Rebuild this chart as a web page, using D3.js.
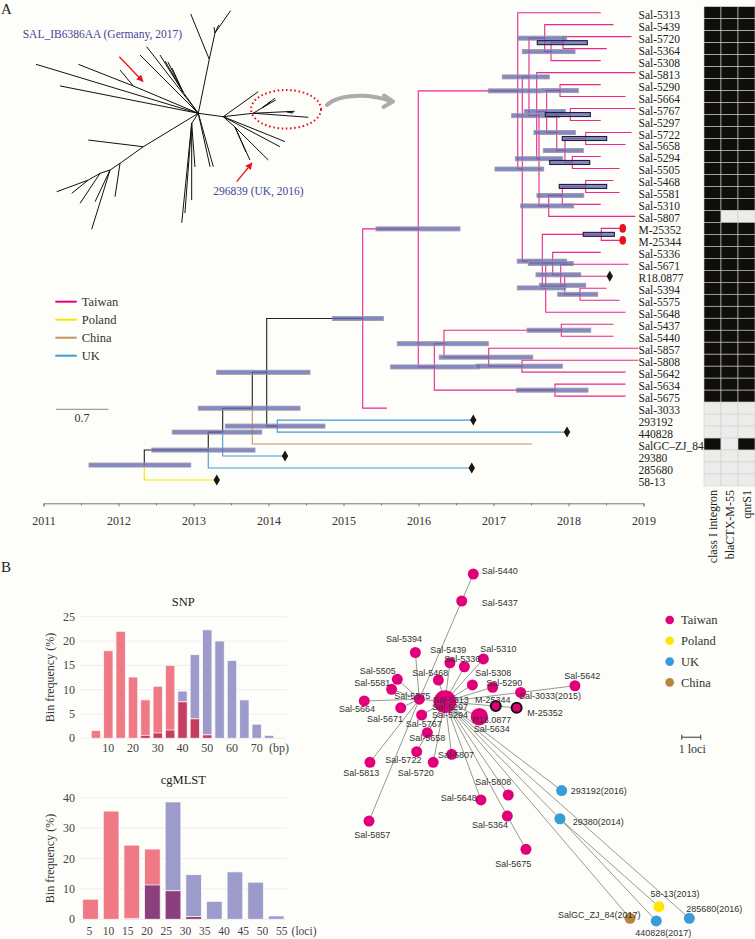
<!DOCTYPE html>
<html><head><meta charset="utf-8">
<script src="https://cdn.jsdelivr.net/npm/d3@7"></script>
<style>body{margin:0;background:#fdfdf9}svg{display:block}</style>
</head><body><svg id="c" width="755" height="939"></svg>
<script>
// ---------------- DATA ----------------
const years = [2011,2012,2013,2014,2015,2016,2017,2018,2019];
const tipNames = ["Sal-5313","Sal-5439","Sal-5720","Sal-5364","Sal-5308","Sal-5813","Sal-5290","Sal-5664","Sal-5767","Sal-5297","Sal-5722","Sal-5658","Sal-5294","Sal-5505","Sal-5468","Sal-5581","Sal-5310","Sal-5807","M-25352","M-25344","Sal-5336","Sal-5671","R18.0877","Sal-5394","Sal-5575","Sal-5648","Sal-5437","Sal-5440","Sal-5857","Sal-5808","Sal-5642","Sal-5634","Sal-5675","Sal-3033","293192","440828","SalGC\u2013ZJ_84","29380","285680","58-13"];
const tipCountry = ["Taiwan","Taiwan","Taiwan","Taiwan","Taiwan","Taiwan","Taiwan","Taiwan","Taiwan","Taiwan","Taiwan","Taiwan","Taiwan","Taiwan","Taiwan","Taiwan","Taiwan","Taiwan","Taiwan","Taiwan","Taiwan","Taiwan","Taiwan","Taiwan","Taiwan","Taiwan","Taiwan","Taiwan","Taiwan","Taiwan","Taiwan","Taiwan","Taiwan","Taiwan","UK","UK","China","UK","UK","Poland"];
const tipDate = [2018.43,2018.60,2018.84,2018.51,2018.43,2018.89,2018.43,2018.76,2018.89,2018.43,2018.84,2018.76,2018.43,2018.68,2018.60,2018.68,2018.43,2018.89,2018.71,2018.71,2018.43,2018.80,2018.55,2018.51,2018.68,2018.76,2018.60,2018.60,2018.93,2018.93,2018.76,2018.76,2018.76,2015.58,2016.73,2017.98,2017.51,2014.22,2016.71,2013.31];
const tipParent = ["n8","n11","n13","n13","n12","n14","n17","n17","n19","n19","n21","n21","n22","n22","n25","n25","n24","n23","n27","n27","n29","n30","n31","n32","n32","n28","n35","n35","n36","n37","n37","n38","n38","n6","n5","n5","n3","n2","n1","n0"];
const tipMarker = ["","","","","","","","","","","","","","","","","","","dot","dot","","","diamond","","","","","","","","","","","","diamond","diamond","","diamond","diamond","diamond"];

const nodeNames = ["n0","n1","n2","n3","n4","n5","n6","n7","n8","n9","n10","n11","n12","n13","n14","n15","n16","n17","n18","n19","n20","n21","n22","n23","n24","n25","n26","n27","n28","n29","n30","n31","n32","n33","n34","n35","n36","n37","n38"];
const nodeParent = ["","n0","n1","n2","n3","n4","n4","n6","n7","n8","n9","n10","n11","n12","n10","n14","n15","n16","n16","n18","n18","n20","n20","n15","n23","n24","n9","n26","n26","n28","n29","n30","n31","n7","n33","n34","n34","n36","n33"];
const nodeDate = [2012.344,2013.197,2013.389,2013.784,2013.976,2014.117,2015.256,2015.997,2017.323,2017.384,2017.473,2017.683,2017.767,2017.927,2017.576,2017.607,2017.709,2017.887,2017.843,2018.024,2017.953,2018.229,2018.051,2017.736,2017.917,2018.229,2017.651,2018.437,2017.696,2017.789,2017.896,2017.949,2018.153,2016.211,2016.340,2017.904,2016.936,2017.380,2017.820];
const nodeHpdLow = [2011.607,2012.443,2012.717,2013.064,2013.309,2013.424,2014.851,2015.433,2016.931,2017.020,2017.117,2017.323,2017.384,2017.584,2017.243,2017.291,2017.411,2017.643,2017.540,2017.691,2017.664,2017.917,2017.749,2017.363,2017.580,2017.877,2017.317,2018.197,2017.317,2017.464,2017.567,2017.611,2017.856,2015.629,2015.717,2017.447,2016.277,2016.767,2017.304];
const nodeHpdHigh = [2012.963,2013.820,2013.909,2014.420,2014.553,2014.753,2015.531,2016.553,2017.643,2017.669,2017.744,2017.976,2018.087,2018.251,2017.877,2017.923,2017.957,2018.131,2018.091,2018.291,2018.197,2018.509,2018.283,2018.069,2018.203,2018.509,2017.976,2018.611,2017.963,2018.064,2018.163,2018.229,2018.389,2016.811,2016.931,2018.296,2017.523,2017.917,2018.260];
const nodeState = ["","","","","","","","Taiwan","Taiwan","Taiwan","Taiwan","Taiwan","Taiwan","Taiwan","Taiwan","Taiwan","Taiwan","Taiwan","Taiwan","Taiwan","Taiwan","Taiwan","Taiwan","Taiwan","Taiwan","Taiwan","Taiwan","Taiwan","Taiwan","Taiwan","Taiwan","Taiwan","Taiwan","Taiwan","Taiwan","Taiwan","Taiwan","Taiwan","Taiwan"];
const nodeHighSupport = [0,0,0,0,0,0,0,0,0,0,0,0,0,1,0,0,0,0,0,1,0,1,1,0,0,1,0,1,0,0,0,0,0,0,0,0,0,0,0];

const genes = ["class I integron","blaCTX-M-55","qnrS1"];
const geneIntegron = [1,1,1,1,1,1,1,1,1,1,1,1,1,1,1,1,1,1,1,1,1,1,1,1,1,1,1,1,1,1,1,1,1,0,0,0,1,0,0,0];
const geneCTX      = [1,1,1,1,1,1,1,1,1,1,1,1,1,1,1,1,1,0,1,1,1,1,1,1,1,1,1,1,1,1,1,1,1,0,0,0,0,0,0,0];
const geneQnr      = [1,1,1,1,1,1,1,1,1,1,1,1,1,1,1,1,1,0,1,1,1,1,1,1,1,1,1,1,1,1,1,1,1,0,0,0,1,0,0,0];

const legendCountries = ["Taiwan","Poland","China","UK"];
const scaleBarLength = 0.7;

// unrooted overview tree: [node, parent, angle (deg), branch length]
const uBranches = [
 ["A1","C",-78.5,0.738],["a1","A1",-112.3,0.656],["A2","A1",-77.8,0.36],["a2","A2",-54.9,0.365],["a3","A2",-100,0.08],["a4","A2",-65,0.12],
 ["b1","C",-163.2,2.269],["b2","C",-168.8,1.888],["B1","C",-157.2,0.944],["b3","B1",-158.5,0.79],["b4","B1",-129.7,0.278],
 ["b5","C",-127.8,1.128],["b6","C",-135,1.104],["D","C",-125.7,0.351],["d1","D",-120.1,0.479],["d2","D",-116.6,0.448],["d3","D",-114.6,0.353],["d4","D",-121.9,0.584],
 ["E1","C",7.7,0.337],["E2","E1",-6.5,0.404],["e1","E2",4.2,0.738],["E3","E2",-2.7,0.447],["e2","E3",5,0.094],["e3","E3",-3,0.107],["e4","E3",15,0.08],
 ["e5","E1",-35.5,0.576],["E4","E2",-31.3,0.137],["e6","E4",-36.7,0.217],["e7","E4",-30,0.214],["e8","E4",-37,0.134],
 ["e9","E1",22,0.892],["e10","E1",27.9,0.858],["F","E1",41.4,0.209],["f1","F",44.7,0.628],["f2","F",65.6,0.485],["f3","F",66.3,0.366],
 ["G","C",123.4,0.161],["g1","G",95.7,1.337],["g2","G",94.3,1.205],["g3","G",85.7,0.586],["g4","G",90,1.027],
 ["h1","C",74.3,0.743],["h2","C",77.6,0.732],
 ["T1","C",148.7,0.861],["t1","T1",-173.1,0.742],["K1","T1",144.5,0.383],["k1","K1",98.5,0.452],["K2","K1",146.2,0.161],["k2","K2",107.2,0.831],["k3","K2",115.3,0.469],
 ["K3","K2",161.7,0.141],["k4","K3",123.7,0.482],["K4","K3",150.2,0.181],["k5","K4",141.3,0.285],["k6","K4",159.7,0.451]
];

// histograms
const snpBins = [5,10,15,20,25,30,35,40,45,50,55,60,65,70,75];
const snpWithin = [1.6,18,22,12.6,7.9,10.7,15,7.5,4,0.7,0,0,0,0,0];
const snpBetween = [0,0,0,0,0.6,1.1,1.7,9.7,17.2,22.3,20,16,7.9,2.9,0.6];
const snpTicks = [10,20,30,40,50,60,70];
const snpYTicks = [0,5,10,15,20,25];
const cgBins = [5,10,15,20,25,30,35,40,45,50];
const cgWithin = [6.6,35.6,24.4,23.1,9.4,0.9,0,0,0,0];
const cgBetween = [0,0,0.3,11.3,38.6,14.7,5.9,15.6,12.2,1.1];
const cgTicks = [5,10,15,20,25,30,35,40,45,50,55];
const cgYTicks = [0,10,20,30,40];

// minimum spanning network (layout coordinates in loci)
const netIds = ["C","Sal-5440","Sal-5437","Sal-5394","Sal-5439","Sal-5336","Sal-5310","Sal-5468","Sal-5308","Sal-5290","Sal-5505","Sal-5581","Sal-5664","Sal-5575","Sal-5671","Sal-5767","Sal-5658","Sal-5722","Sal-5720","Sal-5807","Sal-5813","Sal-5857","M-25344","M-25352","R","Sal-3033","Sal-5642","293192","29380","Sal-5808","Sal-5648","Sal-5364","Sal-5675","58-13","285680","440828","SalGC_ZJ_84"];
const netCountry = ["Taiwan","Taiwan","Taiwan","Taiwan","Taiwan","Taiwan","Taiwan","Taiwan","Taiwan","Taiwan","Taiwan","Taiwan","Taiwan","Taiwan","Taiwan","Taiwan","Taiwan","Taiwan","Taiwan","Taiwan","Taiwan","Taiwan","Taiwan","Taiwan","Taiwan","Taiwan","Taiwan","UK","UK","Taiwan","Taiwan","Taiwan","Taiwan","Poland","UK","UK","China"];
const netCount = [3,1,1,1,1,1,1,1,1,1,1,1,1,1,1,1,1,1,1,1,1,1,1,1,2,1,1,1,1,1,1,1,1,1,1,1,1];
const netOutlined = ["M-25344","M-25352"];
const netX = [0,1.49,0.88,-1.56,0.26,1.02,2.02,-0.35,1.44,2.51,-2.51,-2.81,-4.25,-1.35,-2.33,-1.23,-0.93,-1.49,-0.62,0.35,-3.95,-4.0,2.67,3.77,1.81,3.98,6.84,6.14,6.05,3.33,1.89,3.28,4.26,11.26,12.86,11.12,9.74];
const netY = [0,-6.72,-5.30,-2.59,-2.05,-1.84,-2.25,-1.14,-0.88,-0.76,-1.18,-0.65,-0.04,-0.13,0.32,0.70,1.63,2.63,3.19,2.77,3.19,6.28,0.23,0.32,0.79,-0.49,-0.84,4.68,6.16,4.91,5.17,6.02,7.77,10.79,11.40,11.54,11.40];
const netEdges = [["C","Sal-5575"],["Sal-5575","Sal-5437"],["Sal-5437","Sal-5440"],["Sal-5575","Sal-5857"],["Sal-5575","Sal-5394"],["Sal-5575","Sal-5505"],["Sal-5575","Sal-5581"],["Sal-5575","Sal-5664"],["Sal-5575","Sal-5671"],["Sal-5575","Sal-5813"],
 ["C","Sal-5439"],["C","Sal-5336"],["C","Sal-5310"],["C","Sal-5308"],["C","Sal-5290"],["C","Sal-5468"],["C","Sal-5767"],["C","Sal-5658"],["C","Sal-5722"],["C","Sal-5720"],["C","Sal-5807"],
 ["C","M-25344"],["M-25344","M-25352"],["C","R"],["C","Sal-3033"],["Sal-3033","Sal-5642"],["C","Sal-5648"],["C","Sal-5808"],["C","Sal-5364"],["Sal-5364","Sal-5675"],
 ["C","293192"],["C","29380"],["29380","440828"],["29380","58-13"],["C","285680"],["C","SalGC_ZJ_84"]];
const netLabelText = ["Sal-5440","Sal-5437","Sal-5394","Sal-5439","Sal-5336","Sal-5310","Sal-5468","Sal-5308","Sal-5290","Sal-5505","Sal-5581","Sal-5664","Sal-5575","Sal-5313","Sal-5297","Sal-5294","Sal-5671","Sal-5767","Sal-5658","Sal-5722","Sal-5720","Sal-5807","Sal-5813","Sal-5857","M-25344","M-25352","R18.0877","Sal-5634","Sal-3033(2015)","Sal-5642","293192(2016)","29380(2014)","Sal-5808","Sal-5648","Sal-5364","Sal-5675","58-13(2013)","285680(2016)","440828(2017)","SalGC_ZJ_84(2017)"];
const netLabelAnchor = ["start","start","middle","middle","middle","middle","middle","middle","middle","middle","middle","middle","middle","middle","middle","middle","middle","middle","middle","middle","middle","middle","middle","middle","middle","start","middle","middle","middle","middle","start","start","middle","end","middle","middle","middle","middle","middle","middle"];
const netLabelX = [1.93,1.93,-2.16,0.17,0.91,2.81,-0.77,2.54,3.12,-3.54,-3.83,-4.63,-1.72,0.30,0.26,0.26,-3.16,-1.12,-0.93,-2.19,-1.54,0.58,-4.41,-3.83,2.51,4.33,2.46,2.46,5.53,7.23,6.62,6.72,2.54,1.67,2.37,3.59,12.11,14.17,11.49,8.12];
const netLabelY = [-6.89,-5.23,-3.30,-2.76,-2.28,-2.81,-1.55,-1.55,-1.0,-1.62,-0.98,0.38,-0.30,-0.13,0.26,0.70,0.91,1.14,1.89,3.07,3.74,2.77,3.72,7.02,-0.09,0.58,0.93,1.40,-0.30,-1.37,4.68,6.32,4.21,5.03,6.49,8.51,10.08,10.87,12.14,11.19];
const netLegend = ["Taiwan","Poland","UK","China"];
const netScaleBar = {x:12.46, y:1.87, len:1, label:"1 loci"};

// ---------------- STYLE ----------------
const SERIF = "'Liberation Serif','Times New Roman',serif";
const SANS = "'Liberation Sans',Arial,sans-serif";
const lineColor = {Taiwan:"#e6007e", Poland:"#f7e400", China:"#c4925a", UK:"#3d9bd6"};
const dotColor = {Taiwan:"#e2007a", Poland:"#ffe600", China:"#b8853f", UK:"#3a9bd9"};
const BG = "#fdfdf9";

const svg = d3.select("#c");
svg.append("rect").attr("width",755).attr("height",939).attr("fill",BG);

svg.append("text").attr("x",1).attr("y",14).attr("font-family",SERIF).attr("font-size",15).attr("fill","#222").text("A");
svg.append("text").attr("x",1).attr("y",572).attr("font-family",SERIF).attr("font-size",15).attr("fill","#222").text("B");

// ---------------- PANEL A: time tree ----------------
const tx = d3.scaleLinear().domain([2011,2019]).range([43.5,643.5]);
const ty = d3.scaleBand().domain(tipNames).range([6.7,486]);
const rowY = n => ty(n) + ty.bandwidth()/2;

const table = [];
nodeNames.forEach((id,i)=>table.push({id, parentId: nodeParent[i]||null, date:nodeDate[i], lo:nodeHpdLow[i], hi:nodeHpdHigh[i], state:nodeState[i], strong:nodeHighSupport[i], tip:false}));
tipNames.forEach((id,i)=>table.push({id, parentId: tipParent[i], date:tipDate[i], state:tipCountry[i], marker:tipMarker[i], tip:true}));
const root = d3.stratify().id(d=>d.id).parentId(d=>d.parentId)(table);
root.eachAfter(n=>{
  if(!n.children) n.py = rowY(n.id);
  else { const ys = n.children.map(c=>c.py); n.py = (d3.min(ys)+d3.max(ys))/2; }
});

const gTree = svg.append("g");
gTree.selectAll("path.edge").data(root.descendants().filter(d=>d.parent)).join("path")
  .attr("class","edge")
  .attr("d", d=>`M${tx(d.parent.data.date)},${d.parent.py}V${d.py}H${tx(d.data.date)}`)
  .attr("fill","none")
  .attr("stroke", d=> d.data.state ? lineColor[d.data.state] : "#222")
  .attr("stroke-opacity", d=> d.data.state==="Taiwan" ? 0.85 : 1)
  .attr("stroke-width",1.1);

gTree.selectAll("rect.hpd").data(root.descendants().filter(d=>!d.data.tip)).join("rect")
  .attr("class","hpd")
  .attr("x", d=>tx(d.data.lo)).attr("width", d=>tx(d.data.hi)-tx(d.data.lo))
  .attr("y", d=>d.py-2).attr("height",4)
  .attr("fill","#6467b4").attr("fill-opacity",0.78)
  .attr("stroke", d=>d.data.strong ? "#1d1d33" : "#9a9aa8")
  .attr("stroke-width", d=>d.data.strong ? 1.1 : 0.9);

const tipsH = root.leaves();
gTree.selectAll("path.dia").data(tipsH.filter(d=>d.data.marker==="diamond")).join("path")
  .attr("class","dia")
  .attr("d", d=>{const x=tx(d.data.date), y=d.py; return `M${x},${y-5.5}L${x+3.2},${y}L${x},${y+5.5}L${x-3.2},${y}Z`;})
  .attr("fill","#1a1512");
gTree.selectAll("ellipse.dot").data(tipsH.filter(d=>d.data.marker==="dot")).join("ellipse")
  .attr("cx", d=>tx(d.data.date)+1).attr("cy", d=>d.py).attr("rx",3.3).attr("ry",4.3).attr("fill","#e8101c");

gTree.selectAll("text.tl").data(tipNames).join("text")
  .attr("x",638.5).attr("y", d=>rowY(d)+6)
  .attr("font-family",SERIF).attr("font-size",11.5).attr("fill","#222").text(d=>d);

const axisG = svg.append("g").attr("transform","translate(0,503.3)");
axisG.call(d3.axisBottom(tx).tickValues(years).tickFormat(d3.format("d")).tickSize(3).tickPadding(10.5));
axisG.selectAll("path,line").attr("stroke","#777");
axisG.selectAll("text").attr("font-family",SERIF).attr("font-size",12).attr("fill","#333");
const minor = svg.append("g").attr("transform","translate(0,503.3)");
minor.call(d3.axisBottom(tx).tickValues(years.slice(0,-1).map(y=>y+0.5)).tickFormat("").tickSize(2));
minor.select(".domain").remove();
minor.selectAll("line").attr("stroke","#777");

// heatmap
const hx = d3.scaleBand().domain(genes).range([704,755]);
const geneData = [geneIntegron, geneCTX, geneQnr];
const cells = [];
tipNames.forEach((n,i)=>genes.forEach((g,j)=>cells.push({n,g,v:geneData[j][i]})));
svg.append("g").selectAll("rect").data(cells).join("rect")
  .attr("x", d=>hx(d.g)).attr("y", d=>ty(d.n))
  .attr("width", hx.bandwidth()).attr("height", ty.bandwidth())
  .attr("fill", d=>d.v ? "#100e0b" : "#ececea")
  .attr("stroke","#cfcfcf").attr("stroke-width",0.6);
svg.append("g").selectAll("text").data(genes).join("text")
  .attr("transform", d=>`translate(${hx(d)+hx.bandwidth()/2+4},490) rotate(-90)`)
  .attr("text-anchor","end").attr("font-family",SERIF).attr("font-size",12).attr("fill","#222").text(d=>d);

// legend A
const legA = svg.append("g");
legendCountries.forEach((c,i)=>{
  const y = 301.7 + i*18;
  legA.append("line").attr("x1",55.3).attr("x2",76.7).attr("y1",y).attr("y2",y).attr("stroke",lineColor[c]).attr("stroke-width",2);
  legA.append("text").attr("x",81.7).attr("y",y+4).attr("font-family",SERIF).attr("font-size",12.5).attr("fill","#333").text(c);
});

// unrooted overview tree
const uLen = d3.scaleLinear().domain([0,scaleBarLength]).range([0,52.3]);
const uPos = {C:[198.3,113.3]};
const uSegs = [];
uBranches.forEach(([id,p,a,l])=>{
  const [px,py] = uPos[p];
  const r = a*Math.PI/180, L = uLen(l);
  uPos[id] = [px+L*Math.cos(r), py+L*Math.sin(r)];
  uSegs.push([uPos[p], uPos[id]]);
});
svg.append("g").selectAll("line").data(uSegs).join("line")
  .attr("x1",d=>d[0][0]).attr("y1",d=>d[0][1]).attr("x2",d=>d[1][0]).attr("y2",d=>d[1][1])
  .attr("stroke","#111").attr("stroke-width",1);
svg.append("line").attr("x1",56).attr("x2",56+uLen(scaleBarLength)).attr("y1",409.3).attr("y2",409.3).attr("stroke","#888").attr("stroke-width",1);
svg.append("text").attr("x",82).attr("y",422).attr("text-anchor","middle").attr("font-family",SERIF).attr("font-size",12).attr("fill","#333").text(String(scaleBarLength));

// annotations
const defs = svg.append("defs");
defs.append("marker").attr("id","ar").attr("viewBox","0 0 10 10").attr("refX",9).attr("refY",5)
  .attr("markerWidth",7).attr("markerHeight",7).attr("orient","auto").attr("markerUnits","userSpaceOnUse")
  .append("path").attr("d","M0,0L10,5L0,10Z").attr("fill","#e8141c");
const arrows = [[119.3,56.7,143,81.5],[236.7,181.7,252,163]];
svg.append("g").selectAll("line").data(arrows).join("line")
  .attr("x1",d=>d[0]).attr("y1",d=>d[1]).attr("x2",d=>d[2]).attr("y2",d=>d[3])
  .attr("stroke","#e8141c").attr("stroke-width",1.3).attr("marker-end","url(#ar)");
svg.append("ellipse").attr("cx",286).attr("cy",109.3).attr("rx",35).attr("ry",19.3)
  .attr("fill","none").attr("stroke","#e8141c").attr("stroke-width",2).attr("stroke-dasharray","1.6,2.6");
svg.append("path").attr("d","M327,105C338,94 370,93 391,101.5").attr("fill","none").attr("stroke","#ababab").attr("stroke-width",4).attr("stroke-linecap","round");
svg.append("path").attr("d","M384,95.5L393,101.5L383.5,107").attr("fill","none").attr("stroke","#ababab").attr("stroke-width",4).attr("stroke-linecap","round").attr("stroke-linejoin","round");
svg.append("text").attr("x",22.7).attr("y",38).attr("font-family",SERIF).attr("font-size",11.5).attr("fill","#45459a").text("SAL_IB6386AA (Germany, 2017)");
svg.append("text").attr("x",213.3).attr("y",195).attr("font-family",SERIF).attr("font-size",11.5).attr("fill","#45459a").text("296839 (UK, 2016)");

// ---------------- PANEL B: histograms ----------------
const RED = "#ef7a85", BLUE = "#9d9bcb";
function histogram(opt){
  const g = svg.append("g");
  const x = d3.scaleLinear().domain(opt.xDom).range(opt.xRange);
  const xl = d3.scaleLinear().domain(opt.lDom).range(opt.lRange);
  const y = d3.scaleLinear().domain(opt.yDom).range(opt.yRange);
  const step = x(opt.bins[1]) - x(opt.bins[0]);
  const bw = step*0.76;
  g.selectAll("line.grid").data(opt.yTicks).join("line")
    .attr("x1",80).attr("x2",286.7).attr("y1",d=>y(d)).attr("y2",d=>y(d)).attr("stroke","#ebebeb").attr("stroke-width",0.9);
  g.selectAll("text.yt").data(opt.yTicks).join("text")
    .attr("x",75).attr("y",d=>y(d)+4).attr("text-anchor","end").attr("font-family",SERIF).attr("font-size",12).attr("fill","#444").text(d=>d);
  const drawSet = (vals,col)=>g.append("g").selectAll("rect").data(opt.bins.map((b,i)=>({b,v:vals[i]})).filter(d=>d.v>0)).join("rect")
    .attr("x",d=>x(d.b)-bw/2).attr("width",bw).attr("y",d=>y(d.v)).attr("height",d=>y(0)-y(d.v))
    .attr("fill",col).attr("stroke","#ffffff").attr("stroke-opacity",0.8).attr("stroke-width",0.9);
  drawSet(opt.between, BLUE);
  drawSet(opt.within, RED);
  g.append("g").selectAll("rect").data(opt.bins.map((b,i)=>({b,v:Math.min(opt.within[i],opt.between[i])})).filter(d=>d.v>0)).join("rect")
    .attr("x",d=>x(d.b)-bw/2).attr("width",bw).attr("y",d=>y(d.v)).attr("height",d=>y(0)-y(d.v))
    .attr("fill",opt.overlap).attr("stroke","#ffffff").attr("stroke-opacity",0.8).attr("stroke-width",0.9);
  g.selectAll("text.xt").data(opt.xTicks).join("text")
    .attr("x",d=>xl(d)).attr("y",opt.xLabelY).attr("text-anchor","middle").attr("font-family",SERIF).attr("font-size",opt.xFont).attr("fill","#444").text(d=>d);
  g.append("text").attr("x",xl(opt.unitAt)).attr("y",opt.xLabelY).attr("text-anchor","middle").attr("font-family",SERIF).attr("font-size",opt.xFont).attr("fill","#444").text(opt.unit);
  g.append("text").attr("x",183.3).attr("y",opt.titleY).attr("text-anchor","middle").attr("font-family",SERIF).attr("font-size",12.5).attr("fill","#222").text(opt.title);
  g.append("text").attr("transform",`translate(54,${(opt.yRange[0]+opt.yRange[1])/2}) rotate(-90)`).attr("text-anchor","middle")
    .attr("font-family",SERIF).attr("font-size",12).attr("fill","#333").text("Bin frequency (%)");
}
histogram({title:"SNP", titleY:606, bins:snpBins, within:snpWithin, between:snpBetween, overlap:"#c43d63", xFont:12,
  xDom:[10,70], xRange:[108.3,256.7], lDom:[10,70], lRange:[108.3,256.7], yDom:[0,25], yRange:[738.3,616.7], yTicks:snpYTicks, xTicks:snpTicks, xLabelY:751.5, unit:"(bp)", unitAt:79});
histogram({title:"cgMLST", titleY:784, bins:cgBins, within:cgWithin, between:cgBetween, overlap:"#8b407e", xFont:11.5,
  xDom:[5,50], xRange:[90.5,276.2], lDom:[5,55], lRange:[89.3,281.7], yDom:[0,40], yRange:[919.3,797.7], yTicks:cgYTicks, xTicks:cgTicks, xLabelY:934.5, unit:"(loci)", unitAt:60.8});

// ---------------- PANEL B: network ----------------
const nx = d3.scaleLinear().domain([0,1]).range([445,464]);
const ny = d3.scaleLinear().domain([0,1]).range([701.7,720.7]);
const nodeR = n => 5.5*Math.pow(n,0.66);
const netIndex = {};
netIds.forEach((id,i)=>netIndex[id]=i);
const gNet = svg.append("g");
gNet.selectAll("line").data(netEdges).join("line")
  .attr("x1",d=>nx(netX[netIndex[d[0]]])).attr("y1",d=>ny(netY[netIndex[d[0]]]))
  .attr("x2",d=>nx(netX[netIndex[d[1]]])).attr("y2",d=>ny(netY[netIndex[d[1]]]))
  .attr("stroke","#7e7e7e").attr("stroke-width",0.8);
gNet.selectAll("circle").data(netIds).join("circle")
  .attr("cx",(d,i)=>nx(netX[i])).attr("cy",(d,i)=>ny(netY[i]))
  .attr("r",(d,i)=>nodeR(netCount[i]) - (netOutlined.includes(d)?0.5:0))
  .attr("fill",(d,i)=>dotColor[netCountry[i]])
  .attr("stroke",d=>netOutlined.includes(d)?"#111":"none").attr("stroke-width",2);
gNet.selectAll("text").data(netLabelText).join("text")
  .attr("x",(d,i)=>nx(netLabelX[i])).attr("y",(d,i)=>ny(netLabelY[i])+3.3)
  .attr("text-anchor",(d,i)=>netLabelAnchor[i])
  .attr("font-family",SANS).attr("font-size",9).attr("fill","#333").text(d=>d);

const sbx1 = nx(netScaleBar.x), sbx2 = nx(netScaleBar.x+netScaleBar.len), sby = ny(netScaleBar.y);
const sb = svg.append("g").attr("stroke","#333").attr("stroke-width",1);
sb.append("line").attr("x1",sbx1).attr("x2",sbx2).attr("y1",sby).attr("y2",sby);
sb.append("line").attr("x1",sbx1).attr("x2",sbx1).attr("y1",sby-2.5).attr("y2",sby+2.5);
sb.append("line").attr("x1",sbx2).attr("x2",sbx2).attr("y1",sby-2.5).attr("y2",sby+2.5);
svg.append("text").attr("x",(sbx1+sbx2)/2+1).attr("y",sby+15.5).attr("text-anchor","middle").attr("font-family",SERIF).attr("font-size",12).attr("fill","#333").text(netScaleBar.label);

netLegend.forEach((c,i)=>{
  const y = 620 + i*20.8;
  svg.append("circle").attr("cx",669.7).attr("cy",y).attr("r",4.3).attr("fill",dotColor[c]);
  svg.append("text").attr("x",681).attr("y",y+4.3).attr("font-family",SERIF).attr("font-size",12.5).attr("fill","#333").text(c);
});
</script></body></html>
